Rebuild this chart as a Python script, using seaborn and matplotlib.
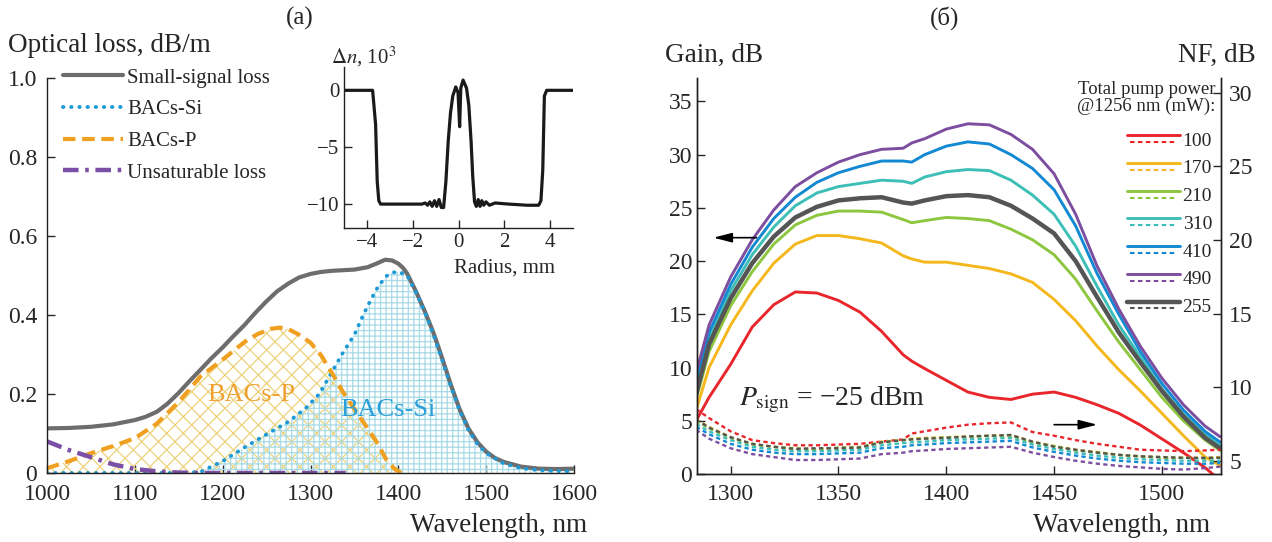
import numpy as np
import pandas as pd
import matplotlib
matplotlib.use('Agg')
import matplotlib.pyplot as plt
from matplotlib.lines import Line2D
from matplotlib.legend_handler import HandlerBase
import seaborn as sns

# ---------------- (a) optical loss spectra ----------------
wl_ss = [1000, 1025, 1050, 1075, 1100, 1112, 1125, 1137, 1150, 1162, 1175, 1187, 1200, 1212, 1225,
         1237, 1250, 1262, 1275, 1287, 1300, 1312, 1325, 1350, 1365, 1375, 1385, 1393, 1400, 1405,
         1410, 1420, 1430, 1440, 1450, 1460, 1470, 1480, 1490, 1500, 1510, 1520, 1540, 1560, 1580,
         1600]
small_signal = [0.113, 0.114, 0.117, 0.123, 0.134, 0.142, 0.155, 0.175, 0.203, 0.232, 0.262, 0.29,
                0.318, 0.346, 0.375, 0.405, 0.435, 0.46, 0.48, 0.495, 0.504, 0.509, 0.512, 0.515,
                0.521, 0.53, 0.54, 0.538, 0.53, 0.52, 0.505, 0.46, 0.41, 0.355, 0.29, 0.222, 0.16,
                0.112, 0.078, 0.054, 0.038, 0.028, 0.016, 0.011, 0.01, 0.011]
wl_si = [1000, 1050, 1100, 1150, 1175, 1200, 1225, 1250, 1275, 1295, 1310, 1325, 1337, 1350, 1360,
         1369, 1377, 1386, 1393, 1400, 1410, 1420, 1430, 1440, 1450, 1460, 1470, 1480, 1490, 1500,
         1520, 1540, 1560, 1580, 1600]
bacs_si = [0, 0, 0, 0, 0.003, 0.03, 0.065, 0.098, 0.13, 0.165, 0.2, 0.258, 0.305, 0.35, 0.4, 0.44,
           0.472, 0.498, 0.507, 0.51, 0.5, 0.458, 0.408, 0.35, 0.285, 0.218, 0.157, 0.108, 0.074,
           0.05, 0.024, 0.012, 0.007, 0.005, 0.004]
wl_p = [1000, 1025, 1050, 1075, 1100, 1125, 1150, 1175, 1200, 1225, 1240, 1255, 1265, 1275, 1287,
        1300, 1312, 1325, 1337, 1350, 1365, 1375, 1386, 1395, 1403]
bacs_p = [0.012, 0.03, 0.05, 0.068, 0.088, 0.125, 0.18, 0.245, 0.287, 0.332, 0.352, 0.365, 0.368,
          0.364, 0.35, 0.33, 0.298, 0.251, 0.205, 0.162, 0.113, 0.08, 0.035, 0.012, 0.0]
wl_u = [1000, 1025, 1050, 1075, 1100, 1125, 1150, 1175, 1250, 1340]
unsat = [0.08, 0.058, 0.04, 0.022, 0.01, 0.004, 0.001, 0.0, 0.0, 0.0]

# inset: refractive index profile
radius = [-5, -3.75, -3.62, -3.55, -3.48, -3.4, -2.5, -1.6, -1.45, -1.35, -1.25, -1.15, -1.05,
          -0.95, -0.85, -0.75, -0.65, -0.55, -0.45, -0.35, -0.25, -0.12, -0.02, 0.05, 0.1, 0.2,
          0.35, 0.45, 0.55, 0.62, 0.7, 0.78, 0.86, 0.94, 1.02, 1.1, 1.2, 1.35, 1.6, 2.2, 3.0,
          3.5, 3.6, 3.68, 3.75, 3.85, 5]
dn = [0, 0, -3, -8, -9.7, -10, -10, -10, -9.9, -10.1, -9.8, -10.2, -9.7, -10.2, -9.6, -10.3,
      -10.3, -8, -4.5, -2, -0.5, 0.3, -0.2, -3.2, 0.2, 0.9, 0.2, -1.3, -4.5, -7.5, -9.8, -10.2,
      -9.6, -10.2, -9.7, -10.1, -9.8, -10.1, -9.9, -10, -10.1, -10.1, -9.7, -7, -0.5, 0, 0]

# ---------------- (б) gain and NF ----------------
lam = [1284, 1290, 1300, 1310, 1320, 1330, 1340, 1350, 1360, 1370, 1380, 1384, 1390, 1400, 1410,
       1420, 1430, 1440, 1450, 1460, 1470, 1480, 1490, 1500, 1510, 1520, 1527]
powers = ['100', '170', '210', '310', '410', '490', '255']
gain = {
    '100': [5.0, 7.2, 10.3, 13.8, 15.9, 17.1, 17.0, 16.3, 15.2, 13.4, 11.2, 10.6, 9.9, 8.8, 7.7,
            7.2, 7.0, 7.5, 7.7, 7.2, 6.5, 5.7, 4.6, 3.3, 2.0, 0.6, -0.6],
    '170': [6.0, 10.0, 14.0, 17.2, 19.8, 21.6, 22.4, 22.4, 22.1, 21.7, 20.5, 20.2, 19.9, 19.9, 19.6,
            19.3, 18.8, 18.0, 16.4, 14.4, 12.0, 9.8, 7.8, 5.7, 3.6, 1.6, 0.8],
    '210': [7.0, 11.5, 15.8, 19.0, 21.6, 23.4, 24.3, 24.7, 24.7, 24.6, 23.9, 23.6, 23.8, 24.1, 24.0,
            23.8, 23.0, 22.0, 20.6, 18.3, 15.3, 12.4, 9.8, 7.2, 5.0, 3.2, 2.2],
    '310': [8.2, 12.7, 17.2, 20.6, 23.2, 25.2, 26.4, 27.0, 27.3, 27.6, 27.5, 27.3, 27.9, 28.4, 28.6,
            28.5, 27.6, 26.2, 24.4, 21.4, 17.6, 14.0, 11.0, 8.0, 5.6, 3.7, 2.7],
    '410': [8.8, 13.3, 17.8, 21.3, 24.0, 26.0, 27.4, 28.3, 28.9, 29.4, 29.4, 29.3, 30.0, 30.8, 31.2,
            31.0, 30.0, 28.7, 26.7, 23.3, 18.8, 15.0, 11.5, 8.5, 6.0, 4.0, 3.0],
    '490': [9.5, 14.0, 18.5, 22.0, 24.8, 27.0, 28.3, 29.3, 30.0, 30.5, 30.6, 31.1, 31.5, 32.4, 32.9,
            32.8, 31.9, 30.5, 28.2, 24.4, 19.5, 15.5, 12.0, 9.0, 6.5, 4.5, 3.5],
    '255': [7.5, 12.2, 16.5, 19.8, 22.3, 24.1, 25.1, 25.7, 25.9, 26.0, 25.5, 25.4, 25.7, 26.1, 26.2,
            26.0, 25.2, 24.0, 22.6, 20.0, 16.6, 13.3, 10.5, 7.8, 5.4, 3.4, 2.4],
}
nf = {
    '100': [8.5, 7.9, 7.0, 6.4, 6.2, 6.05, 6.05, 6.1, 6.15, 6.3, 6.45, 6.85, 7.0, 7.25, 7.45, 7.55,
            7.6, 6.95, 6.7, 6.4, 6.15, 5.95, 5.75, 5.7, 5.65, 5.7, 5.75],
    '170': [7.8, 7.3, 6.6, 6.15, 5.95, 5.8, 5.8, 5.85, 5.9, 6.3, 6.4, 6.5, 6.55, 6.6, 6.65, 6.7,
            6.75, 6.3, 6.0, 5.75, 5.6, 5.4, 5.3, 5.25, 5.2, 5.2, 5.25],
    '210': [7.7, 7.2, 6.55, 6.1, 5.95, 5.85, 5.8, 5.9, 5.95, 6.25, 6.4, 6.45, 6.5, 6.6, 6.6, 6.7,
            6.7, 6.25, 6.0, 5.7, 5.55, 5.4, 5.3, 5.2, 5.2, 5.15, 5.2],
    '310': [7.5, 7.0, 6.4, 5.95, 5.75, 5.65, 5.65, 5.7, 5.75, 6.05, 6.2, 6.25, 6.3, 6.4, 6.45, 6.5,
            6.55, 6.1, 5.8, 5.55, 5.35, 5.2, 5.1, 5.05, 5.0, 5.0, 5.0],
    '410': [7.3, 6.8, 6.15, 5.75, 5.55, 5.45, 5.45, 5.5, 5.55, 5.85, 5.95, 6.05, 6.1, 6.2, 6.25, 6.3,
            6.35, 5.9, 5.6, 5.35, 5.15, 5.0, 4.9, 4.85, 4.8, 4.8, 4.85],
    '490': [7.1, 6.5, 5.85, 5.45, 5.25, 5.05, 5.05, 5.1, 5.15, 5.45, 5.55, 5.65, 5.7, 5.8, 5.85, 5.9,
            5.95, 5.55, 5.25, 5.0, 4.8, 4.65, 4.55, 4.45, 4.4, 4.5, 4.6],
    '255': [7.8, 7.25, 6.6, 6.15, 5.95, 5.8, 5.85, 5.85, 5.9, 6.25, 6.4, 6.45, 6.5, 6.55, 6.65, 6.7,
            6.75, 6.3, 5.95, 5.75, 5.55, 5.4, 5.3, 5.25, 5.2, 5.2, 5.2],
}
colors = {'100': '#e8262c', '170': '#f5b81c', '210': '#8dc63f', '310': '#3dbfb7',
          '410': '#1289d2', '490': '#7d4e9f', '255': '#555555'}

rows = []
for p in powers:
    for w, g, n in zip(lam, gain[p], nf[p]):
        rows.append({'wl': w, 'power': p, 'gain': g, 'nf': n})
amp = pd.DataFrame(rows)

sns.set_style('ticks')
plt.rcParams['font.family'] = ['Liberation Serif', 'DejaVu Serif']
plt.rcParams['mathtext.fontset'] = 'stix'
plt.rcParams['hatch.linewidth'] = 0.9
plt.rcParams['axes.linewidth'] = 1.0
plt.rcParams['axes.edgecolor'] = '#231f20'
for a in ['x', 'y']:
    plt.rcParams[a + 'tick.direction'] = 'in'
    plt.rcParams[a + 'tick.major.size'] = 6
    plt.rcParams[a + 'tick.major.width'] = 1.0
    plt.rcParams[a + 'tick.labelsize'] = 17

fig = plt.figure(figsize=(12.72, 5.42), dpi=100)
axa = fig.add_axes([47 / 1272, 69 / 542, 527 / 1272, 395 / 542])
axb = fig.add_axes([697 / 1272, 68 / 542, 524 / 1272, 396 / 542])
axi = fig.add_axes([344 / 1272, 314 / 542, 229 / 1272, 161 / 542])

# ---- panel (a)
axa.fill_between(wl_p, bacs_p, 0, facecolor='none', edgecolor='#ecd27c', hatch='xx', lw=0)
axa.fill_between(wl_si, bacs_si, 0, facecolor='none', edgecolor='#a9dbe6', hatch='+++', lw=0)
sns.lineplot(x=wl_ss, y=small_signal, color='#6d6d6d', lw=3, ax=axa, label='Small-signal loss')
sns.lineplot(x=wl_si, y=bacs_si, color='#1d9ad6', lw=2.8, ax=axa, label='BACs-Si',
             ls=(0, (0.1, 2.0)), dash_capstyle='round')
sns.lineplot(x=wl_p, y=bacs_p, color='#f0a020', lw=3, ax=axa, label='BACs-P', ls=(0, (3, 1.6)))
sns.lineplot(x=wl_u, y=unsat, color='#7b4fa6', lw=3.2, ax=axa, label='Unsaturable loss',
             ls=(0, (3.5, 1.5, 0.8, 1.5)))
axa.set_xlim(1000, 1600)
axa.set_ylim(0, 1.0)
axa.set_xticks([1000, 1100, 1200, 1300, 1400, 1500, 1600])
axa.set_yticks([0, 0.2, 0.4, 0.6, 0.8, 1.0])
axa.set_yticklabels(['0', '0.2', '0.4', '0.6', '0.8', '1.0'])
axa.tick_params(axis='y', pad=7)
axa.tick_params(axis='x', pad=8)
axa.set_xlabel('')
axa.set_ylabel('')
sns.despine(ax=axa)
axa.text(1232, 0.197, 'BACs-P', color='#f0a030', fontsize=19, ha='center', va='center')
axa.text(1388, 0.16, 'BACs-Si', color='#2a9fd8', fontsize=19, ha='center', va='center')
axa.legend(loc='upper left', bbox_to_anchor=(0.03, 1.025), frameon=False, fontsize=15,
           handlelength=2.9, handletextpad=0.2, labelspacing=0.58, borderpad=0, borderaxespad=0)

# ---- inset
sns.lineplot(x=radius, y=dn, color='#1a1a1a', lw=2.3, ax=axi)
axi.set_xlim(-5, 5)
axi.set_ylim(-12.1, 2.05)
axi.set_xticks([-4, -2, 0, 2, 4])
axi.set_yticks([0, -5, -10])
axi.tick_params(labelsize=15)
axi.set_xlabel('')
axi.set_ylabel('')
axi.patch.set_alpha(0)
sns.despine(ax=axi)
fig.text(364 / 1272, 1 - 57 / 542, r'$\Delta n$, 10$^3$', fontsize=15, ha='center', va='center')
fig.text(555 / 1272, 1 - 268 / 542, 'Radius, mm', fontsize=15, ha='right', va='center')

# ---- panel (б)
axn = axb.twinx()
for p in powers:
    sub = amp[amp['power'] == p]
    lw = 3.2 if p == '255' else 2.1
    sns.lineplot(data=sub, x='wl', y='gain', color=colors[p], lw=lw, ax=axb)
    sns.lineplot(data=sub, x='wl', y='nf', color=colors[p], lw=1.7, ls=(0, (1.8, 1.4)), ax=axn)
axb.set_xlim(1284.4, 1527.4)
axb.set_ylim(0, 37.2)
axn.set_ylim(4.1, 31)
axb.set_xticks([1300, 1350, 1400, 1450, 1500])
axb.set_yticks([0, 5, 10, 15, 20, 25, 30, 35])
axn.set_yticks([5, 10, 15, 20, 25, 30])
for a in (axb, axn):
    a.set_xlabel('')
    a.set_ylabel('')
    a.spines['top'].set_visible(False)
axb.tick_params(axis='x', pad=7)
axn.tick_params(axis='y', direction='in', labelsize=17, pad=6)

arrow = dict(arrowstyle='-|>,head_length=0.7,head_width=0.18', color='k', lw=1.2,
             mutation_scale=16, shrinkA=0, shrinkB=0)
axb.annotate('', xy=(1292, 22.2), xytext=(1312, 22.2), arrowprops=arrow)
axn.annotate('', xy=(1470, 7.45), xytext=(1450, 7.45), arrowprops=arrow)
axb.text(1304, 7.0, r'$P_{\mathrm{sign}}$ = −25 dBm', fontsize=20, va='center')


class SolidDashHandler(HandlerBase):
    def create_artists(self, legend, orig_handle, xdescent, ydescent, width, height,
                       fontsize, trans):
        c = orig_handle.get_color()
        y0 = (height - ydescent) / 2
        top = Line2D([-xdescent, width - xdescent], [y0 + 2, y0 + 2], color=c,
                     lw=orig_handle.get_linewidth(), transform=trans)
        bot = Line2D([-xdescent + 2, width - xdescent - 2], [y0 - 3, y0 - 3], color=c, lw=1.5,
                     ls=(0, (2.2, 1.6)), transform=trans)
        return [top, bot]


handles = [Line2D([], [], color=colors[p], lw=3.2 if p == '255' else 2.1) for p in powers]
axn.legend(handles, powers, handler_map={Line2D: SolidDashHandler()}, frameon=False,
           loc='upper right', bbox_to_anchor=(0.983, 0.868), fontsize=14,
           handlelength=2.7, handleheight=1.0, labelspacing=0.43, handletextpad=0.15,
           borderpad=0, borderaxespad=0)
fig.text(1215 / 1272, 1 - 98 / 542, 'Total pump power\n@1256 nm (mW):', fontsize=13.5,
         ha='right', va='center', multialignment='right', linespacing=1.05)

# ---- figure texts
fig.text(300 / 1272, 1 - 18 / 542, '(a)', fontsize=18, ha='center', va='center')
fig.text(945 / 1272, 1 - 18 / 542, '(б)', fontsize=18, ha='center', va='center')
fig.text(8 / 1272, 1 - 45 / 542, 'Optical loss, dB/m', fontsize=19.5, ha='left', va='center')
fig.text(665 / 1272, 1 - 55 / 542, 'Gain, dB', fontsize=19.5, ha='left', va='center')
fig.text(1256 / 1272, 1 - 55 / 542, 'NF, dB', fontsize=19.5, ha='right', va='center')
fig.text(587 / 1272, 1 - 525 / 542, 'Wavelength, nm', fontsize=19.5, ha='right', va='center')
fig.text(1210 / 1272, 1 - 525 / 542, 'Wavelength, nm', fontsize=19.5, ha='right', va='center')

fig.savefig('out.png', dpi=100)
